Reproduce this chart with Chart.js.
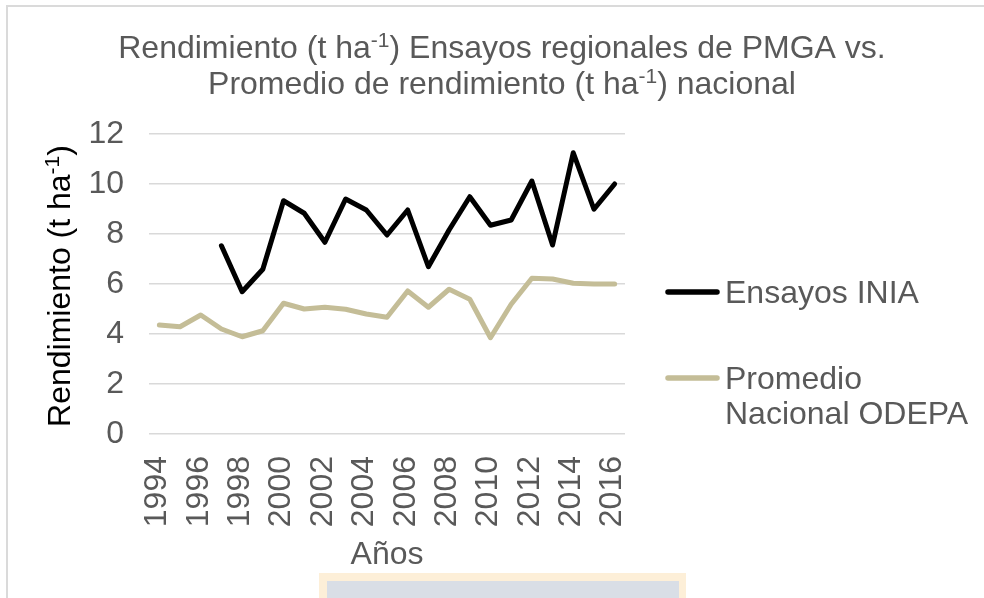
<!DOCTYPE html>
<html>
<head>
<meta charset="utf-8">
<script src="https://cdn.jsdelivr.net/npm/chart.js@4.4.1/dist/chart.umd.min.js"></script>
<style>
html,body{margin:0;padding:0;background:#fff;}
#wrap{position:relative;width:984px;height:598px;overflow:hidden;background:#fff;}
#c{position:absolute;left:0;top:0;}
.frameTop{position:absolute;left:6px;top:5px;width:978px;height:2px;background:#dadada;}
.frameLeft{position:absolute;left:6px;top:5px;width:2px;height:593px;background:#dadada;}
.boxOuter{position:absolute;left:319px;top:573px;width:367px;height:25px;background:#fdefd8;}
.boxInner{position:absolute;left:327px;top:581px;width:352px;height:17px;background:#d9dee6;}
</style>
</head>
<body>
<div id="wrap">
  <div class="frameTop"></div>
  <div class="frameLeft"></div>
  <canvas id="c" width="984" height="598"></canvas>
  <div class="boxOuter"></div>
  <div class="boxInner"></div>
</div>
<script>
// ---- data ----
const years = ['1994','1995','1996','1997','1998','1999','2000','2001','2002','2003','2004','2005',
               '2006','2007','2008','2009','2010','2011','2012','2013','2014','2015','2016'];
const ensayosINIA = [null,null,null,7.53,5.69,6.59,9.33,8.83,7.67,9.40,8.96,7.96,
                     8.96,6.69,8.16,9.49,8.35,8.56,10.12,7.56,11.25,8.99,10.00];
const promedioODEPA = [4.36,4.29,4.76,4.20,3.89,4.13,5.23,5.00,5.07,4.99,4.80,4.67,
                       5.72,5.07,5.79,5.39,3.85,5.19,6.23,6.20,6.03,6.00,6.00];
const seriesNames = ['Ensayos INIA', 'Promedio Nacional ODEPA'];
const seriesColors = ['#000000', '#C4BD97'];
const yTicks = [0, 2, 4, 6, 8, 10, 12];
const titleLines = [
  [{t:'Rendimiento (t ha'},{t:'-1',sup:true},{t:') Ensayos regionales de PMGA vs.'}],
  [{t:'Promedio de rendimiento (t ha'},{t:'-1',sup:true},{t:') nacional'}]
];
const yTitleParts = [{t:'Rendimiento (t ha'},{t:'-1',sup:true},{t:')'}];
const xTitle = 'Años';

const FAMILY = '"Liberation Sans", Arial, sans-serif';
const FS = 32;
const GREY = '#595959';

function drawRich(ctx, parts, cx, baseY, size, color) {
  let w = 0;
  parts.forEach(p => {
    ctx.font = (p.sup ? Math.round(size * 0.65) : size) + 'px ' + FAMILY;
    p.w = ctx.measureText(p.t).width; w += p.w;
  });
  let x = cx - w / 2;
  ctx.fillStyle = color; ctx.textAlign = 'left'; ctx.textBaseline = 'alphabetic';
  parts.forEach(p => {
    ctx.font = (p.sup ? Math.round(size * 0.65) : size) + 'px ' + FAMILY;
    ctx.fillText(p.t, x, baseY - (p.sup ? size * 0.32 : 0));
    x += p.w;
  });
}

const textPlugin = {
  id: 'richTexts',
  afterDraw(chart) {
    const ctx = chart.ctx, ca = chart.chartArea;
    ctx.save();
    // chart title
    drawRich(ctx, titleLines[0], 502, 57.5, FS, GREY);
    drawRich(ctx, titleLines[1], 502, 93.5, FS, GREY);
    // y axis title (rotated)
    ctx.translate(58, (ca.top + ca.bottom) / 2 + 2);
    ctx.rotate(-Math.PI / 2);
    drawRich(ctx, yTitleParts, 0, 11.5, FS, '#000000');
    ctx.restore();
  }
};

const legendPlugin = {
  id: 'sideLegend',
  afterDraw(chart) {
    const ctx = chart.ctx, ca = chart.chartArea;
    const x0 = ca.right + 43, x1 = ca.right + 92, tx = ca.right + 100;
    const ys = [292, 378];
    const maxW = chart.width - tx - 6;
    ctx.save();
    chart.data.datasets.forEach((ds, i) => {
      const y = ys[i];
      ctx.strokeStyle = ds.borderColor; ctx.lineWidth = 5.5; ctx.lineCap = 'round';
      ctx.beginPath(); ctx.moveTo(x0, y); ctx.lineTo(x1, y); ctx.stroke();
      ctx.font = FS + 'px ' + FAMILY; ctx.fillStyle = GREY;
      ctx.textAlign = 'left'; ctx.textBaseline = 'middle';
      // word wrap
      const words = ds.label.split(' '); const lines = []; let cur = '';
      words.forEach(wd => {
        const test = cur ? cur + ' ' + wd : wd;
        if (ctx.measureText(test).width > maxW && cur) { lines.push(cur); cur = wd; } else cur = test;
      });
      lines.push(cur);
      lines.forEach((ln, k) => ctx.fillText(ln, tx, y + 2 + k * 35.5));
    });
    ctx.restore();
  }
};

new Chart(document.getElementById('c'), {
  type: 'line',
  data: {
    labels: years,
    datasets: [
      { label: seriesNames[0], data: ensayosINIA, borderColor: seriesColors[0], backgroundColor: seriesColors[0],
        borderWidth: 5, pointRadius: 0, tension: 0, borderJoinStyle: 'round', borderCapStyle: 'round', spanGaps: false },
      { label: seriesNames[1], data: promedioODEPA, borderColor: seriesColors[1], backgroundColor: seriesColors[1],
        borderWidth: 5, pointRadius: 0, tension: 0, borderJoinStyle: 'round', borderCapStyle: 'round' }
    ]
  },
  options: {
    responsive: false,
    animation: false,
    devicePixelRatio: 1,
    layout: { padding: { left: 20, top: 134, right: 359, bottom: 0 } },
    plugins: { legend: { display: false }, title: { display: false }, tooltip: { enabled: false } },
    scales: {
      x: {
        offset: true,
        grid: { display: false, drawTicks: false },
        border: { display: false },
        ticks: {
          autoSkip: false, minRotation: 90, maxRotation: 90, padding: 22, labelOffset: -2,
          color: GREY, font: { family: FAMILY, size: FS },
          callback: function (v, i) { return i % 2 === 0 ? this.getLabelForValue(v) : null; }
        },
        title: { display: true, text: xTitle, color: GREY, font: { family: FAMILY, size: FS }, padding: { top: 0, bottom: 24 } },
        afterFit: s => { s.height = 164; }
      },
      y: {
        min: 0, max: 12,
        afterBuildTicks: s => { s.ticks = yTicks.map(v => ({ value: v })); },
        grid: { color: '#d9d9d9', lineWidth: 1.5, drawTicks: false },
        border: { display: false },
        ticks: { padding: 25, color: GREY, font: { family: FAMILY, size: FS } },
        afterFit: s => { s.width = 129; }
      }
    }
  },
  plugins: [textPlugin, legendPlugin]
});
</script>
</body>
</html>
